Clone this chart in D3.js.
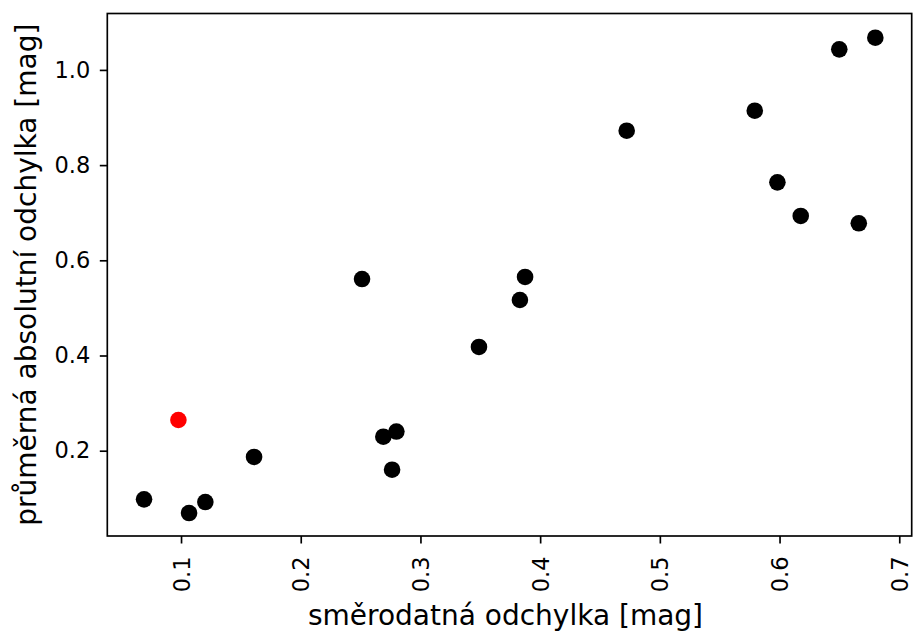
<!DOCTYPE html>
<html><head><meta charset="utf-8">
<script src="https://cdn.jsdelivr.net/npm/d3@7"></script>
<style>body{margin:0;background:#fff;} svg{display:block;} text{font-family:"DejaVu Sans",sans-serif;}</style>
</head><body>
<svg id="c" width="913" height="635"></svg>
<script>
const sigma = [0.0691,0.1067,0.1203,0.0978,0.1610,0.2512,0.2690,0.2799,0.2763,0.3489,0.3831,0.3874,0.4723,0.5793,0.5982,0.6177,0.6499,0.6662,0.6800];
const mad   = [0.0978,0.0691,0.0922,0.2645,0.1868,0.5607,0.2294,0.2403,0.1600,0.4180,0.5166,0.5650,0.8722,0.9143,0.7638,0.6932,1.0432,0.6778,1.0676];
const highlight = [false,false,false,true,false,false,false,false,false,false,false,false,false,false,false,false,false,false,false];
const xTicks = [0.1,0.2,0.3,0.4,0.5,0.6,0.7];
const yTicks = [0.2,0.4,0.6,0.8,1.0];
const xLabel = "směrodatná odchylka [mag]";
const yLabel = "průměrná absolutní odchylka [mag]";

const L=107.3,R=911.7,T=13.5,B=536;
const svg=d3.select("#c");
const x=d3.scaleLinear().domain([0.0384,0.7104]).range([L,R]);
const y=d3.scaleLinear().domain([0.0208,1.1185]).range([B,T]);

const pts = sigma.map((s,i)=>({x:s,y:mad[i],h:highlight[i]}));
svg.append("g").selectAll("circle").data(pts).join("circle")
  .attr("cx",d=>x(d.x)).attr("cy",d=>y(d.y)).attr("r",8.3)
  .attr("fill",d=>d.h?"#ff0000":"#000");

const xa=svg.append("g").attr("transform",`translate(0,${B})`)
  .call(d3.axisBottom(x).tickValues(xTicks).tickFormat(d3.format(".1f")).tickSize(7.5).tickPadding(5));
xa.select(".domain").remove();
xa.selectAll("line").attr("stroke","#000").attr("stroke-width",1.67);
xa.selectAll("text").attr("font-size",22.5).attr("fill","#000")
  .attr("transform","rotate(-90)").attr("text-anchor","end").attr("x",-20.5).attr("y",0).attr("dy","0.36em");

const ya=svg.append("g").attr("transform",`translate(${L},0)`)
  .call(d3.axisLeft(y).tickValues(yTicks).tickFormat(d3.format(".1f")).tickSize(7.5).tickPadding(9.5));
ya.select(".domain").remove();
ya.selectAll("line").attr("stroke","#000").attr("stroke-width",1.67);
ya.selectAll("text").attr("font-size",22.5).attr("fill","#000");

svg.append("rect").attr("x",L).attr("y",T).attr("width",R-L).attr("height",B-T)
  .attr("fill","none").attr("stroke","#000").attr("stroke-width",1.67);

svg.append("text").attr("x",(L+R)/2 - 4).attr("y",624.5).attr("text-anchor","middle")
  .attr("font-size",28).attr("fill","#000").text(xLabel);
svg.append("text").attr("transform",`translate(36,${(T+B)/2}) rotate(-90)`).attr("text-anchor","middle")
  .attr("font-size",28).attr("fill","#000").text(yLabel);
</script>
</body></html>
